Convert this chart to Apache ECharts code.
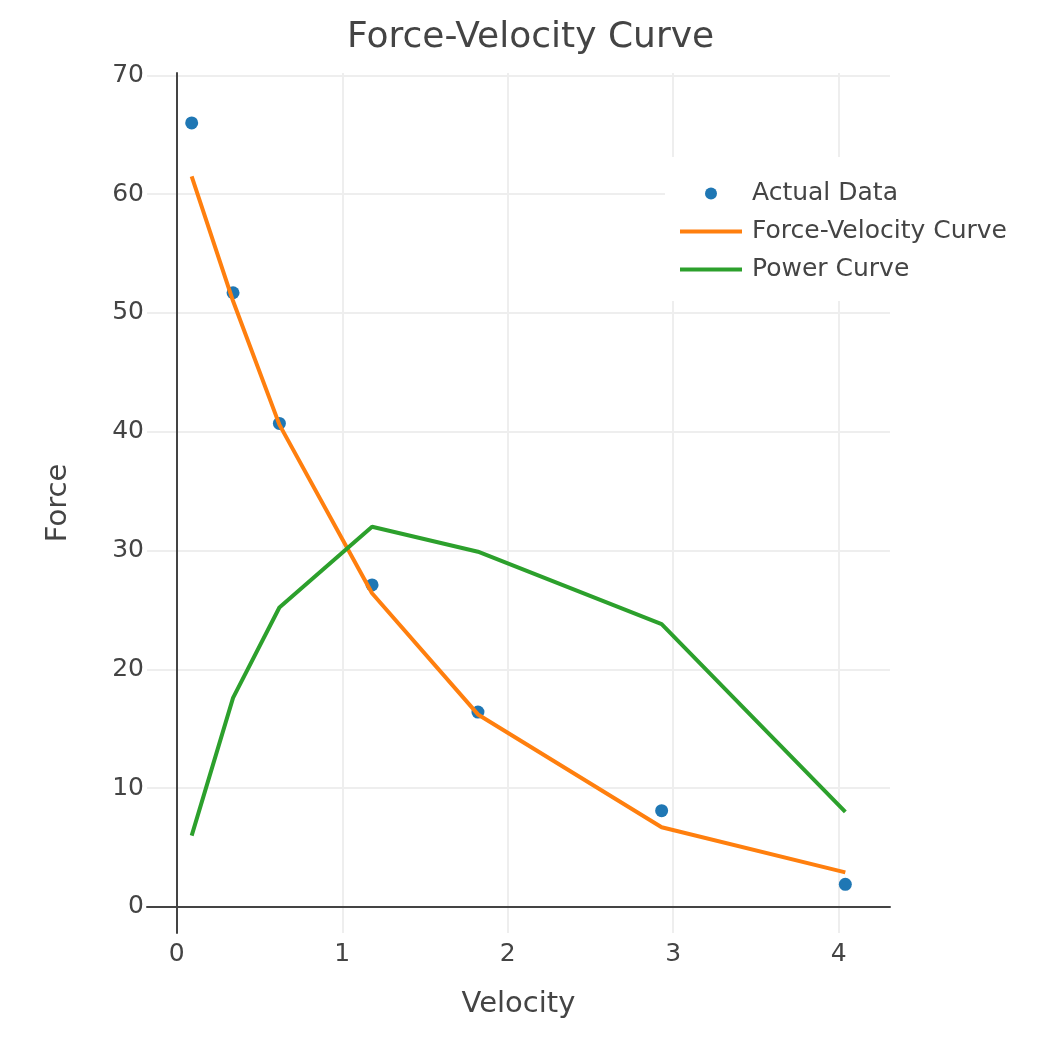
<!DOCTYPE html>
<html lang="en">
<head>
    <meta charset="utf-8">
    <title>Force-Velocity Curve</title>
    <script src="https://cdn.jsdelivr.net/npm/echarts@6/dist/echarts.min.js" type="text/javascript" charset="utf-8"></script>
    <style>
        html, body { margin: 0; padding: 0; background: #fff; }
        #main { width: 1056px; height: 1041px; }
    </style>
</head>
<body>
<div id="main"></div>
<script type="text/javascript">
    // values
    var velocity = [0.09, 0.34, 0.62, 1.18, 1.82, 2.93, 4.04];
    var actualForce = [66.0, 51.7, 40.7, 27.1, 16.4, 8.1, 1.9];
    var fittedForce = [61.5, 51.0, 40.6, 26.4, 16.2, 6.7, 2.9];
    var power = [6.0, 17.6, 25.2, 32.0, 29.9, 23.8, 8.0];
    var seriesNames = ['Actual Data', 'Force-Velocity Curve', 'Power Curve'];

    function pairs(xs, ys) {
        var out = [];
        for (var i = 0; i < xs.length; i++) {
            out.push([xs[i], ys[i]]);
        }
        return out;
    }

    var font = 'DejaVu Sans';
    var textColor = '#444';

    var myChart = echarts.init(document.getElementById('main'));
    var option = {
        animation: false,
        backgroundColor: '#fff',
        title: {
            text: 'Force-Velocity Curve',
            left: 342,
            top: 15,
            textStyle: {
                fontFamily: font,
                fontSize: 36,
                fontWeight: 'normal',
                color: textColor
            }
        },
        legend: {
            orient: 'vertical',
            left: 665,
            top: 157,
            padding: [24, 4, 19, 13],
            backgroundColor: '#fff',
            itemWidth: 62,
            itemHeight: 12,
            itemGap: 13,
            lineStyle: { width: 4 },
            textStyle: {
                fontFamily: font,
                fontSize: 25,
                color: textColor,
                padding: [0, 0, 0, 5]
            },
            // line entries: hide the dot ECharts puts in the middle of the line icon
            data: [
                seriesNames[0],
                { name: seriesNames[1], itemStyle: { opacity: 0 } },
                { name: seriesNames[2], itemStyle: { opacity: 0 } }
            ]
        },
        grid: {
            left: 147,
            right: 166,
            top: 73,
            bottom: 108,
            outerBoundsMode: 'none'
        },
        xAxis: {
            type: 'value',
            min: -0.18,
            max: 4.31,
            minInterval: 1,
            maxInterval: 1,
            name: 'Velocity',
            nameLocation: 'middle',
            nameGap: 57,
            nameMoveOverlap: false,
            nameTextStyle: { fontFamily: font, fontSize: 29, color: textColor },
            axisLine: { onZero: true, lineStyle: { color: '#444', width: 2 } },
            axisTick: { show: false },
            axisLabel: {
                margin: 9,
                showMinLabel: false,
                showMaxLabel: false,
                fontFamily: font,
                fontSize: 25,
                color: textColor
            },
            splitLine: {
                show: true,
                showMinLine: false,
                showMaxLine: false,
                lineStyle: { color: '#eee', width: 2 }
            }
        },
        yAxis: {
            type: 'value',
            min: -2.2,
            max: 70.2,
            minInterval: 10,
            maxInterval: 10,
            name: 'Force',
            nameLocation: 'middle',
            nameGap: 74,
            nameMoveOverlap: false,
            nameTextStyle: { fontFamily: font, fontSize: 29, color: textColor },
            axisLine: { onZero: true, lineStyle: { color: '#444', width: 2 } },
            axisTick: { show: false },
            axisLabel: {
                margin: 3,
                showMinLabel: false,
                showMaxLabel: false,
                fontFamily: font,
                fontSize: 25,
                color: textColor
            },
            splitLine: {
                show: true,
                showMinLine: false,
                showMaxLine: false,
                lineStyle: { color: '#eee', width: 2 }
            }
        },
        series: [
            {
                name: seriesNames[0],
                type: 'scatter',
                symbol: 'circle',
                symbolSize: 13,
                itemStyle: { color: '#1f77b4', opacity: 1 },
                data: pairs(velocity, actualForce)
            },
            {
                name: seriesNames[1],
                type: 'line',
                symbol: 'none',
                lineStyle: { color: '#ff7f0e', width: 4 },
                itemStyle: { color: '#ff7f0e' },
                data: pairs(velocity, fittedForce)
            },
            {
                name: seriesNames[2],
                type: 'line',
                symbol: 'none',
                lineStyle: { color: '#2ca02c', width: 4 },
                itemStyle: { color: '#2ca02c' },
                data: pairs(velocity, power)
            }
        ]
    };
    myChart.setOption(option);
</script>
</body>
</html>
